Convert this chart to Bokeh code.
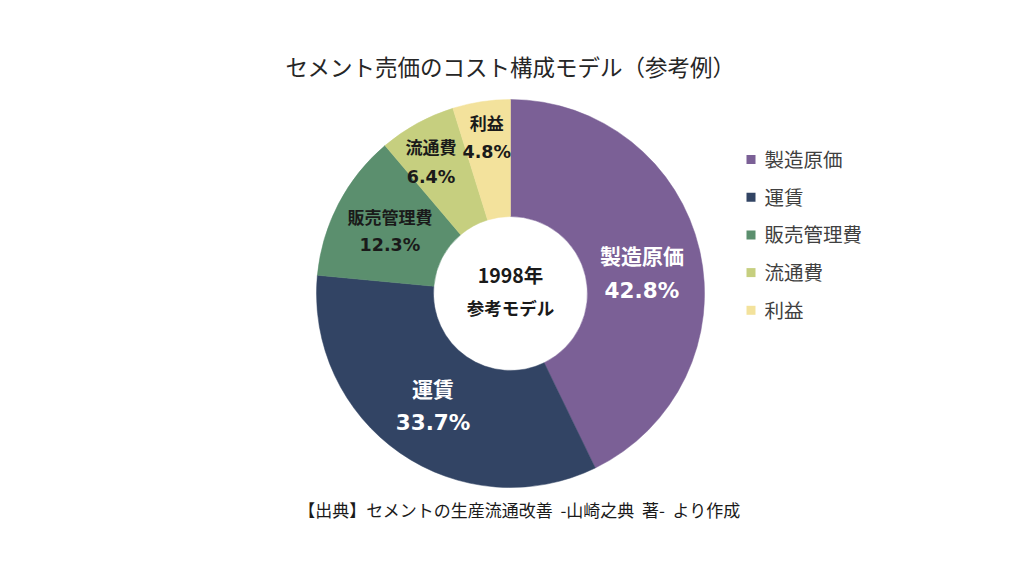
import math
from bokeh.plotting import figure
from bokeh.models import Range1d, ColumnDataSource
from bokeh.core.properties import value
from bokeh.embed import file_html
from bokeh.resources import INLINE

# ---- data ----
categories = ["製造原価", "運賃", "販売管理費", "流通費", "利益"]
shares = [42.8, 33.7, 12.3, 6.4, 4.8]
pct_labels = ["42.8%", "33.7%", "12.3%", "6.4%", "4.8%"]
colors = ["#7B6096", "#324464", "#5B8F6E", "#C6CF7F", "#F3E29C"]
title_text = "セメント売価のコスト構成モデル（参考例）"
center_text = ["1998年", "参考モデル"]
source_text = "【出典】セメントの生産流通改善\u00a0\u00a0-山崎之典\u00a0\u00a0著-\u00a0\u00a0より作成"

FONT = "Noto Sans CJK JP"
NUMFONT = "DejaVu Sans"
W, H = 1008, 560

def sy(y):
    # screen y (window pixels) -> data y
    return 576 - y

p = figure(width=W, height=H, output_backend="svg", toolbar_location=None,
           x_range=Range1d(0, W), y_range=Range1d(576 - H, 576),
           min_border=0, background_fill_color="white", border_fill_color="white")
p.axis.visible = False
p.grid.visible = False
p.outline_line_color = None

cx, cy = 510, sy(293)
r_out, r_in = 194, 77

total = sum(shares)
starts, ends, mids = [], [], []
acc = 0.0
for s in shares:
    a0 = math.pi / 2 - 2 * math.pi * acc / total
    acc += s
    a1 = math.pi / 2 - 2 * math.pi * acc / total
    starts.append(a0)
    ends.append(a1)
    mids.append((a0 + a1) / 2)

src = ColumnDataSource(dict(start=starts, end=ends, color=colors))
p.annular_wedge(x=cx, y=cy, inner_radius=r_in, outer_radius=r_out,
                start_angle="start", end_angle="end", direction="clock",
                fill_color="color", line_color="color", line_width=0.5, source=src)

# slice labels
label_r = [133, 136, 136, 154, 158]
label_da = [-0.07, 0, 0, 0.04, 0]
name_size = ["21px", "21px", "17px", "17px", "17px"]
pct_size = ["21.5px", "21.5px", "17.5px", "17.5px", "17.5px"]
gap = [17.5, 17.5, 14, 15.5, 14.5]
txt_color = ["white", "white", "#1a1a1a", "#1a1a1a", "#1a1a1a"]
for i, cat in enumerate(categories):
    a = mids[i] + label_da[i]
    lx = cx + label_r[i] * math.cos(a)
    ly = cy + label_r[i] * math.sin(a)
    p.text(x=[lx], y=[ly + gap[i]], text=[cat], text_align="center", text_baseline="middle",
           text_font=value(FONT), text_font_style="bold", text_font_size=name_size[i],
           text_color=txt_color[i])
    p.text(x=[lx], y=[ly - gap[i]], text=[pct_labels[i]], text_align="center", text_baseline="middle",
           text_font=value(NUMFONT), text_font_style="bold", text_font_size=pct_size[i],
           text_color=txt_color[i])

# center text
p.text(x=[cx], y=[sy(274)], text=[center_text[0]], text_align="center",
       text_baseline="middle", text_font=value(FONT), text_font_style="bold",
       text_font_size="19.5px", text_color="#1a1a1a")
p.text(x=[cx], y=[sy(307)], text=[center_text[1]], text_align="center",
       text_baseline="middle", text_font=value(FONT), text_font_style="bold",
       text_font_size="17.5px", text_color="#1a1a1a")

# title
p.text(x=[510], y=[sy(65)], text=[title_text], text_align="center", text_baseline="middle",
       text_font=value(FONT), text_font_size="22.5px", text_color="#262626")

# legend
leg_y = [sy(158 + 37.7 * i) for i in range(len(categories))]
p.rect(x=[750.5] * len(categories), y=[y - 1 for y in leg_y], width=9, height=9,
       fill_color=colors, line_color=None)
p.text(x=[764] * len(categories), y=leg_y, text=categories, text_align="left",
       text_baseline="middle", text_font=value(FONT), text_font_size="19.5px",
       text_color="#404040")

# source
p.text(x=[519], y=[sy(509)], text=[source_text], text_align="center", text_baseline="middle",
       text_font=value(FONT), text_font_size="17px", text_color="#1a1a1a")

open("out.html", "w").write(file_html(p, INLINE))
